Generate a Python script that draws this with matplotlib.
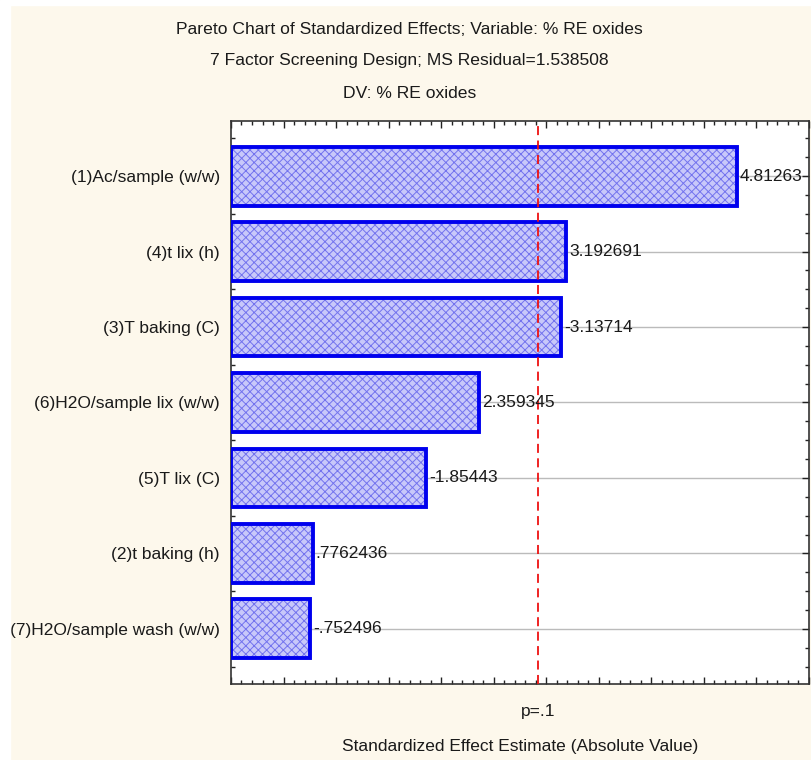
import numpy as np
import matplotlib.pyplot as plt
from matplotlib.ticker import MultipleLocator, NullFormatter
from matplotlib.patches import Rectangle
from matplotlib import font_manager

# effects from the screening design, sorted by size
factors = ['(1)Ac/sample (w/w)', '(4)t lix (h)', '(3)T baking (C)',
           '(6)H2O/sample lix (w/w)', '(5)T lix (C)', '(2)t baking (h)',
           '(7)H2O/sample wash (w/w)']
effects = [4.81263, 3.192691, -3.13714, 2.359345, -1.85443, .7762436, -.752496]
effect_labels = ['4.81263', '3.192691', '-3.13714', '2.359345', '-1.85443',
                 '.7762436', '-.752496']
t_crit = 2.919986  # p=.1

names = {f.name for f in font_manager.fontManager.ttflist}
fam = 'Liberation Sans Narrow' if 'Liberation Sans Narrow' in names else 'Liberation Sans'
plt.rcParams['font.family'] = [fam, 'DejaVu Sans']
plt.rcParams['hatch.linewidth'] = 0.7

bg = '#fdf8ec'
fig = plt.figure(figsize=(8.11, 7.6), dpi=100, facecolor=bg)
# thin white margin along the top and left edge
fig.patches.append(Rectangle((0, 0), 10 / 811, 1, transform=fig.transFigure,
                             color='white', zorder=0))
fig.patches.append(Rectangle((0, 1 - 5 / 760), 1, 5 / 760, transform=fig.transFigure,
                             color='white', zorder=0))

ax = fig.add_axes([0.2848, 0.1, 0.7127, 0.7408])

y = np.arange(len(factors))
vals = np.abs(effects)

for yy in y:
    ax.axhline(yy, color='#bbbbbb', lw=1.0, zorder=0)

ax.barh(y, vals, height=0.78, color='#c8c8fa', edgecolor='#7373ee',
        hatch='xxxx', lw=0, zorder=2)
ax.barh(y, vals, height=0.78, fill=False, edgecolor='#0000ee', lw=2.8, zorder=3)

for yy, v, s in zip(y, vals, effect_labels):
    ax.text(v + 0.03, yy, s, va='center', ha='left', fontsize=12.5,
            color='#1a1a1a', zorder=4)

ax.axvline(t_crit, color='#ee1111', lw=1.3, ls=(0, (5, 3)), zorder=3)

ax.set_xlim(0, 5.5)
ax.set_ylim(len(factors) - 0.27, -0.73)

ax.set_yticks(y)
ax.set_yticklabels(factors, fontsize=12.5, color='#1a1a1a')
ax.yaxis.set_minor_locator(MultipleLocator(0.25))
ax.xaxis.set_major_locator(MultipleLocator(0.5))
ax.xaxis.set_minor_locator(MultipleLocator(0.1))
ax.xaxis.set_major_formatter(NullFormatter())
ax.tick_params(which='both', direction='in', top=True, right=True, color='#222222')
ax.tick_params(which='major', length=5, width=1)
ax.tick_params(which='minor', length=3, width=1)
ax.tick_params(axis='y', which='major', pad=8)
for sp in ax.spines.values():
    sp.set_color('#333333')
    sp.set_linewidth(1.2)

ax.text(t_crit, -0.035, 'p=.1', transform=ax.get_xaxis_transform(),
        ha='center', va='top', fontsize=12.5, color='#1a1a1a')
ax.set_xlabel('Standardized Effect Estimate (Absolute Value)', fontsize=12.5,
              color='#1a1a1a', labelpad=36)

title = ['Pareto Chart of Standardized Effects; Variable: % RE oxides',
         '7 Factor Screening Design; MS Residual=1.538508',
         'DV: % RE oxides']
for i, line in enumerate(title):
    fig.text(0.505, 1 - (29 + 32 * i) / 760, line, ha='center', va='center',
             fontsize=12.6, color='#1a1a1a')

fig.savefig('out.png', dpi=100, facecolor=bg)
